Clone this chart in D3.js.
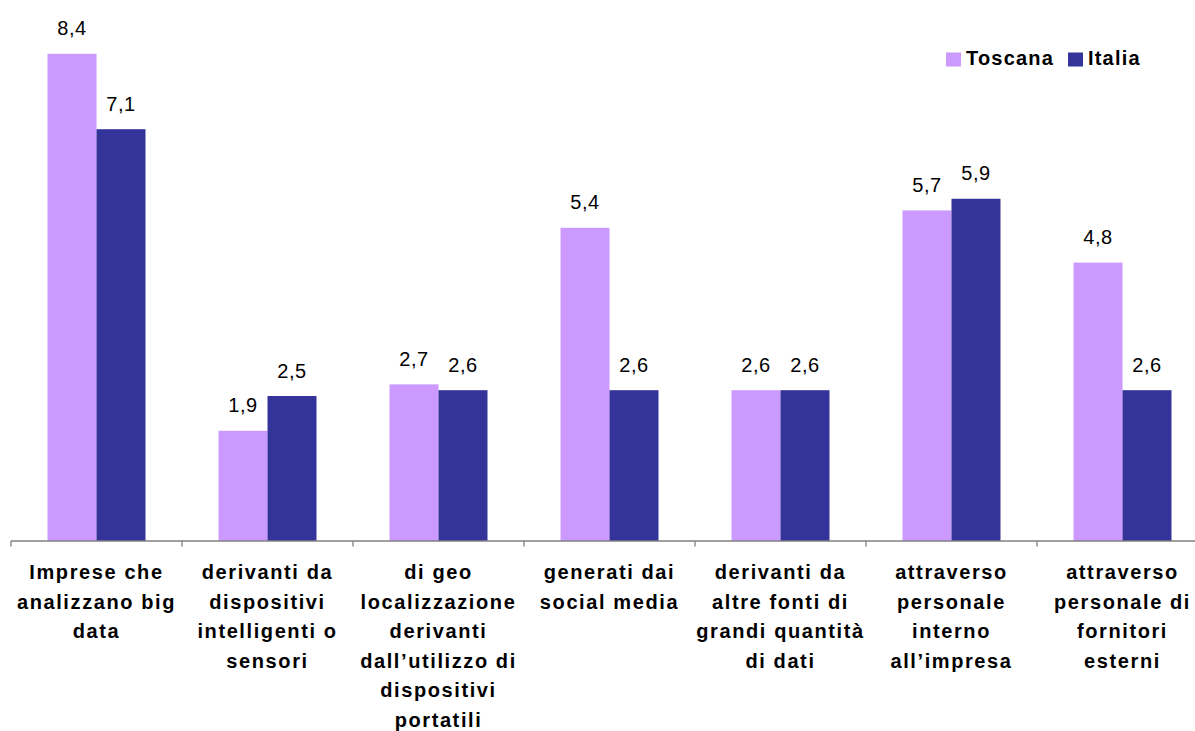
<!DOCTYPE html>
<html>
<head>
<meta charset="utf-8">
<script src="https://cdn.jsdelivr.net/npm/d3@7"></script>
<style>
  html, body { margin: 0; padding: 0; background: #fff; }
  svg { display: block; font-family: "Liberation Sans", Arial, sans-serif; }
</style>
</head>
<body>
<svg id="chart" width="1195" height="731"></svg>
<script>
// Categories, with their label lines
const categories = [
  ["Imprese che", "analizzano big", "data"],
  ["derivanti da", "dispositivi", "intelligenti o", "sensori"],
  ["di geo", "localizzazione", "derivanti", "dall\u2019utilizzo di", "dispositivi", "portatili"],
  ["generati dai", "social media"],
  ["derivanti da", "altre fonti di", "grandi quantit\u00e0", "di dati"],
  ["attraverso", "personale", "interno", "all\u2019impresa"],
  ["attraverso", "personale di", "fornitori", "esterni"]
];
const seriesNames = ["Toscana", "Italia"];
const toscana = [8.4, 1.9, 2.7, 5.4, 2.6, 5.7, 4.8];
const italia  = [7.1, 2.5, 2.6, 2.6, 2.6, 5.9, 2.6];
const seriesColors = ["#CC99FF", "#333399"];

const svg = d3.select("#chart");
const keys = categories.map((c, i) => "c" + i);
const values = [toscana, italia];

const x = d3.scaleBand().domain(keys).range([11, 1208]).paddingInner(0).paddingOuter(0);
const xs = d3.scaleBand().domain(seriesNames).range([0, x.bandwidth()]).paddingInner(0).paddingOuter(0.745);
const y = d3.scaleLinear().domain([0, 9]).range([541, 541 - 9 * 58]);

const fmt = v => d3.format(".1f")(v).replace(".", ",");

// Bars
seriesNames.forEach((s, si) => {
  svg.append("g").selectAll("rect")
    .data(values[si])
    .join("rect")
    .attr("x", (d, i) => x(keys[i]) + xs(s))
    .attr("y", d => y(d))
    .attr("width", xs.bandwidth())
    .attr("height", d => y(0) - y(d))
    .attr("fill", seriesColors[si]);

  // Value labels
  svg.append("g").selectAll("text")
    .data(values[si])
    .join("text")
    .attr("x", (d, i) => x(keys[i]) + xs(s) + xs.bandwidth() / 2)
    .attr("y", d => y(d) - 18.5)
    .attr("text-anchor", "middle")
    .attr("font-size", 20)
    .attr("letter-spacing", "0.5px")
    .attr("fill", "#000")
    .text(d => fmt(d));
});

// Category axis
const axis = svg.append("g").attr("transform", "translate(0,541)");
axis.append("line")
  .attr("x1", 11).attr("x2", 1208).attr("y1", 0).attr("y2", 0)
  .attr("stroke", "#808080").attr("stroke-width", 1.3);
const tickPos = keys.map(k => x(k)).concat([x.range()[1]]);
axis.selectAll("line.tick")
  .data(tickPos)
  .join("line")
  .attr("class", "tick")
  .attr("x1", d => d).attr("x2", d => d)
  .attr("y1", 0).attr("y2", 5.5)
  .attr("stroke", "#808080").attr("stroke-width", 1.3);

// Category labels
const lab = svg.append("g");
categories.forEach((lines, i) => {
  const t = lab.append("text")
    .attr("x", x(keys[i]) + x.bandwidth() / 2)
    .attr("y", 579)
    .attr("text-anchor", "middle")
    .attr("font-size", 20)
    .attr("font-weight", "bold")
    .attr("letter-spacing", "1.6px")
    .attr("fill", "#000");
  lines.forEach((ln, j) => {
    t.append("tspan")
      .attr("x", x(keys[i]) + x.bandwidth() / 2)
      .attr("y", 579 + j * 29.5)
      .text(ln);
  });
});

// Legend
const legendX = [946, 1068];
const legend = svg.append("g");
seriesNames.forEach((s, si) => {
  legend.append("rect")
    .attr("x", legendX[si]).attr("y", 52.5)
    .attr("width", 15).attr("height", 14)
    .attr("fill", seriesColors[si]);
  legend.append("text")
    .attr("x", legendX[si] + 20).attr("y", 65)
    .attr("font-size", 20)
    .attr("font-weight", "bold")
    .attr("letter-spacing", "1.2px")
    .attr("fill", "#000")
    .text(s);
});
</script>
</body>
</html>
